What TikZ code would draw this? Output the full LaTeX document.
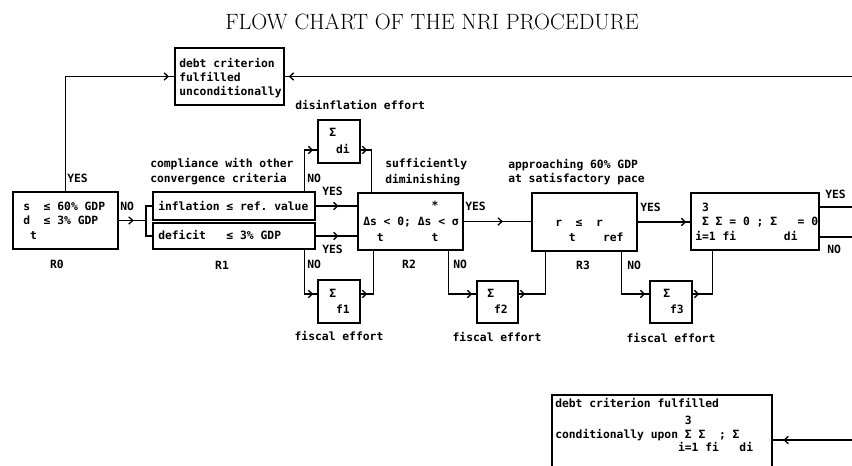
\documentclass[tikz,border=0pt]{standalone}
\usepackage{fontspec}
\newfontfamily\dotmono{DejaVu Sans Mono}
\usetikzlibrary{arrows.meta,decorations.markings,calc,fit}
\begin{document}
\begin{tikzpicture}[x=0.75pt,y=-0.75pt,
  box/.style={draw, line width=1pt, inner sep=0pt, rectangle},
  tt/.style={font=\dotmono\bfseries\fontsize{8.5}{10}\selectfont, inner sep=0pt, anchor=base west},
  ttc/.style={tt, anchor=base},
  conn/.style={line width=1pt},
  arrowat/.style={conn, postaction={decorate}, decoration={markings, mark=at position #1 with {\arrow{Straight Barb[length=3pt,width=5.5pt]}}}}
]
\useasboundingbox (0,0) rectangle (852,466);
\clip (0,0) rectangle (852,466);

% title
\node[font=\fontsize{16.6}{19}\selectfont, inner sep=0pt] (title) at (432,21.5) {FLOW CHART OF THE NRI PROCEDURE};

% boxes
\node[box, fit={(175,48) (284,105)}] (TB) {};
\node[box, fit={(13,192) (118,249)}] (R0) {};
\node[box, fit={(153,192) (315,220)}] (R1a) {};
\node[box, fit={(153,223) (315,249)}] (R1b) {};
\node[box, fit={(318,120) (360,163)}] (Sdi) {};
\node[box, fit={(318,280) (360,323)}] (Sf1) {};
\node[box, fit={(358,193) (463,250)}] (R2) {};
\node[box, fit={(477,281) (518,323)}] (Sf2) {};
\node[box, fit={(532,193) (637,251)}] (R3) {};
\node[box, fit={(650,281) (692,323)}] (Sf3) {};
\node[box, fit={(691,193) (819,250)}] (R4) {};
\node[box, fit={(552,395) (772,490)}] (BB) {};

% box texts
\node[tt] (tb1) at (179,67.5) {debt criterion};
\node[tt] (tb2) at (179,81.5) {fulfilled};
\node[tt] (tb3) at (179,95.5) {unconditionally};

\node[tt] (r0a) at (23,210.5) {s~~≤~60\%~GDP};
\node[tt] (r0b) at (23,224.5) {d~~≤~3\%~GDP};
\node[tt] (r0c) at (23,239.5) {~t};

\node[tt] (r1a) at (158,210.5) {inflation~≤~ref.~value};
\node[tt] (r1b) at (158,239.5) {deficit~~~≤~3\%~GDP};

\node[tt] (sdi1) at (329,136.5) {Σ};
\node[tt] (sdi2) at (329,153.5) {~di};
\node[tt] (sf1a) at (329,297.5) {Σ};
\node[tt] (sf1b) at (329,313.5) {~f1};

\node[tt] (r2a) at (363,209.5) {~~~~~~~~~~*};
\node[tt] (r2b) at (363,225.5) {Δs~<~0;~Δs~<~σ};
\node[tt] (r2c) at (363,241.5) {~~t~~~~~~~t};

\node[tt] (sf2a) at (487,297.5) {Σ};
\node[tt] (sf2b) at (487,313.5) {~f2};

\node[tt] (r3a) at (555,226.5) {r~~≤~~r};
\node[tt] (r3b) at (555,241.5) {~~t~~~~ref};

\node[tt] (sf3a) at (663,297.5) {Σ};
\node[tt] (sf3b) at (663,313.5) {~f3};

\node[tt] (r4a) at (695,211.5) {~3};
\node[tt] (r4b) at (695,225.5) {~Σ~Σ~=~0~;~Σ~~~=~0};
\node[tt] (r4c) at (695,240.5) {i=1~fi~~~~~~~di};

\node[tt] (bb1) at (555,407.5) {debt criterion fulfilled};
\node[tt] (bb2) at (555,424.5) {~~~~~~~~~~~~~~~~~~~3};
\node[tt] (bb3) at (555,438.5) {conditionally~upon~Σ~Σ~~;~Σ};
\node[tt] (bb4) at (555,451.5) {~~~~~~~~~~~~~~~~~~i=1~fi~~~di};

% labels
\node[tt] (l1) at (67,182.5) {YES};
\node[tt] (l2) at (120,210.5) {NO};
\node[tt] (l3) at (150,167.5) {compliance with other};
\node[tt] (l4) at (150,182.5) {convergence criteria};
\node[tt] (l5) at (307,182.5) {NO};
\node[tt] (l6) at (322,195.5) {YES};
\node[tt] (l7) at (322,253.5) {YES};
\node[tt] (l8) at (307,268.5) {NO};
\node[tt] (l9) at (295,109.5) {disinflation effort};
\node[ttc] (nR0) at (57,268.5) {R0};
\node[ttc] (nR1) at (222,269.5) {R1};
\node[ttc] (nR2) at (409,268.5) {R2};
\node[ttc] (nR3) at (583,269.5) {R3};
\node[tt] (l10) at (385,167.5) {sufficiently};
\node[tt] (l11) at (385,183.5) {diminishing};
\node[tt] (l12) at (508,168.5) {approaching 60\% GDP};
\node[tt] (l13) at (508,182.5) {at satisfactory pace};
\node[tt] (l14) at (465,210.5) {YES};
\node[tt] (l15) at (453,268.5) {NO};
\node[tt] (l16) at (640,211.5) {YES};
\node[tt] (l17) at (627,269.5) {NO};
\node[tt] (l18) at (825,198.5) {YES};
\node[tt] (l19) at (827,253.5) {NO};
\node[ttc] (fe1) at (339,340.5) {fiscal effort};
\node[ttc] (fe2) at (497,341.5) {fiscal effort};
\node[ttc] (fe3) at (671,342.5) {fiscal effort};

% connectors
\draw[arrowat=-4pt] (R0.north) |- (TB.west);
\coordinate (eTop) at (852,76.5);
\draw[arrowat=-3pt] (eTop) -- (TB.east |- eTop);

\coordinate (j) at (146,220.5);
\draw[arrowat=0.55] (R0.east) -- (j);
\draw[conn] (R1a.west) -| (j) |- (R1b.west);

\draw[arrowat=0.55] (R1a.east) -- (R1a.east -| R2.west);
\draw[arrowat=0.55] (R1b.east) -- (R1b.east -| R2.west);
\draw[arrowat=-3pt] ($(R1a.north east)+(-11,0)$) |- ($(Sdi.west)+(0,8.5)$);
\draw[arrowat=5pt] ($(Sdi.east)+(0,8.5)$) -| ($(R2.north west)+(14,0)$);
\draw[arrowat=-3pt] ($(R1b.south east)+(-11,0)$) |- ($(Sf1.west)+(0,-7.5)$);
\draw[arrowat=5pt] ($(Sf1.east)+(0,-7.5)$) -| ($(R2.south west)+(16,0)$);

\draw[arrowat=0.58] (R2.east) -- (R2.east -| R3.west);
\draw[arrowat=-3pt] ($(R2.south west)+(91,0)$) |- ($(Sf2.west)+(0,-8)$);
\draw[arrowat=5pt] ($(Sf2.east)+(0,-8)$) -| ($(R3.south west)+(14,0)$);

\draw[arrowat=-3pt] (R3.east) -- (R3.east -| R4.west);
\draw[arrowat=-3pt] ($(R3.south west)+(90,0)$) |- ($(Sf3.west)+(0,-8)$);
\draw[arrowat=5pt] ($(Sf3.east)+(0,-8)$) -| ($(R4.south west)+(22,0)$);

\coordinate (eYes) at (852,207);
\coordinate (eNo) at (852,237);
\draw[conn] (R4.east |- eYes) -- (eYes);
\draw[conn] (R4.east |- eNo) -- (eNo);

\coordinate (eBot) at (852,440);
\draw[arrowat=-8pt] (eBot) -- (BB.east |- eBot);
\end{tikzpicture}
\end{document}
